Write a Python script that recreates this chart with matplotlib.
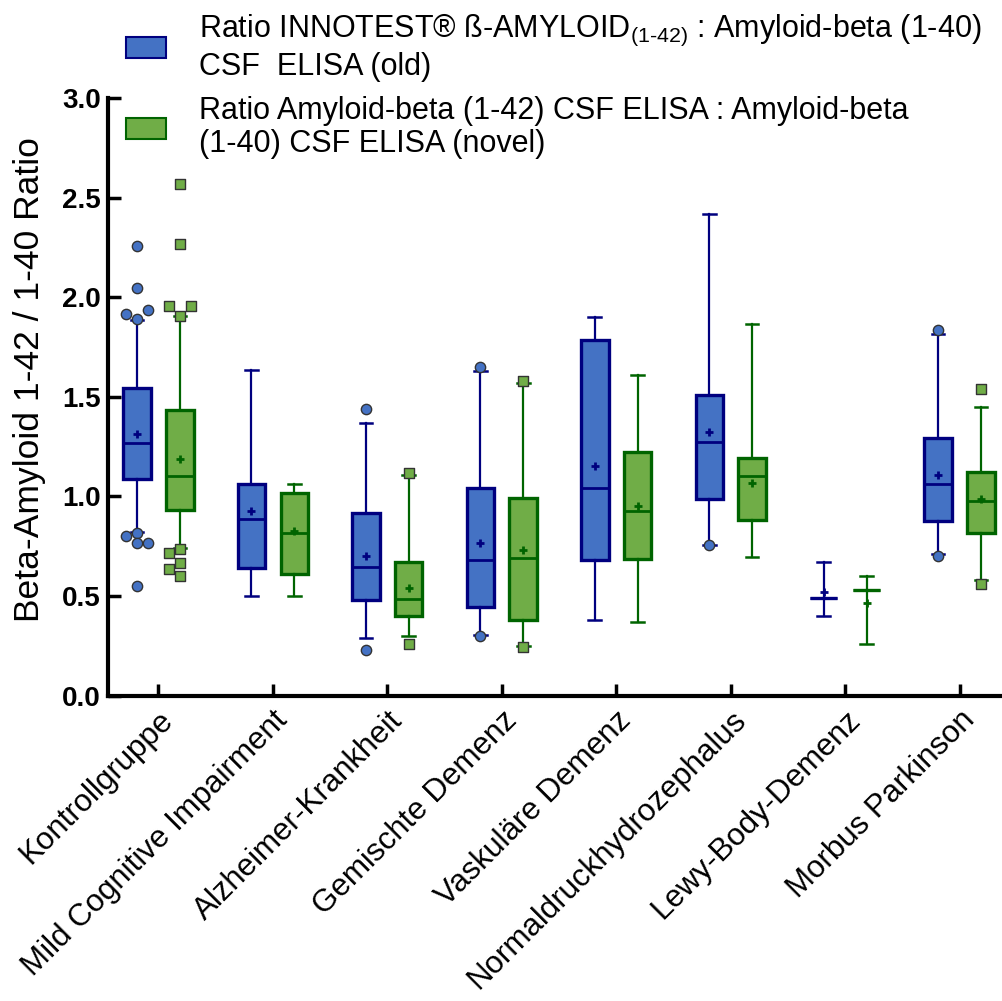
import matplotlib
matplotlib.use("Agg")
import matplotlib.pyplot as plt
from matplotlib.patches import Patch
import numpy as np

plt.rcParams['font.family'] = ['Liberation Sans', 'DejaVu Sans']
plt.rcParams['mathtext.fontset'] = 'custom'
plt.rcParams['mathtext.rm'] = 'Liberation Sans'

groups = ["Kontrollgruppe", "Mild Cognitive Impairment", "Alzheimer-Krankheit",
          "Gemischte Demenz", "Vaskuläre Demenz", "Normaldruckhydrozephalus",
          "Lewy-Body-Demenz", "Morbus Parkinson"]

# old assay (INNOTEST)
old_lo = [0.821, 0.498, 0.288, 0.303, 0.378, 0.757, 0.400, 0.712]
old_q1 = [1.085, 0.640, 0.478, 0.445, 0.679, 0.989, 0.488, 0.876]
old_med = [1.267, 0.888, 0.644, 0.679, 1.043, 1.275, 0.488, 1.063]
old_q3 = [1.542, 1.063, 0.916, 1.043, 1.786, 1.511, 0.488, 1.292]
old_hi = [1.886, 1.636, 1.369, 1.627, 1.898, 2.417, 0.669, 1.815]
old_mean = [1.315, 0.926, 0.702, 0.766, 1.150, 1.322, 0.518, 1.108]
old_fliers = [[2.257, 2.048, 1.888, 1.915, 1.938, 0.818, 0.799, 0.765, 0.765, 0.549],
              [], [1.437, 0.228], [1.647, 0.298], [], [0.757], [], [1.836, 0.699]]

# novel assay
new_lo = [0.741, 0.498, 0.297, 0.250, 0.368, 0.697, 0.258, 0.582]
new_q1 = [0.929, 0.612, 0.400, 0.378, 0.685, 0.881, 0.529, 0.816]
new_med = [1.100, 0.818, 0.483, 0.692, 0.926, 1.100, 0.529, 0.978]
new_q3 = [1.435, 1.015, 0.669, 0.993, 1.221, 1.193, 0.529, 1.121]
new_hi = [1.903, 1.060, 1.105, 1.569, 1.607, 1.866, 0.599, 1.450]
new_mean = [1.187, 0.824, 0.542, 0.729, 0.953, 1.065, 0.462, 0.989]
new_fliers = [[2.566, 2.267, 1.906, 1.956, 1.956, 0.737, 0.717, 0.667, 0.637, 0.599],
              [], [1.118, 0.260], [1.581, 0.245], [], [], [], [1.537, 0.559]]

legend_labels = [
    "Ratio INNOTEST® ß-AMYLOID$_{\\text{(1-42)}}$ : Amyloid-beta (1-40)\nCSF  ELISA (old)",
    "Ratio Amyloid-beta (1-42) CSF ELISA : Amyloid-beta\n(1-40) CSF ELISA (novel)",
]

BLUE, BLUE_EDGE = "#4472C4", "#00007F"
GREEN, GREEN_EDGE = "#70AD47", "#006400"


def make_stats(lo, q1, med, q3, hi, mean):
    return [dict(whislo=a, q1=b, med=c, q3=d, whishi=e, mean=f, fliers=[])
            for a, b, c, d, e, f in zip(lo, q1, med, q3, hi, mean)]


def swarm_offsets(vals, step_px, thresh_px, px_per_y):
    # greedy beeswarm: center first, then left, then right
    placed = []
    offs = []
    for v in vals:
        for k in [0, -1, 1, -2, 2]:
            x = k * step_px
            if all(np.hypot(x - px, (v - pv) * px_per_y) >= thresh_px for px, pv in placed):
                break
        placed.append((x, v))
        offs.append(k)
    return offs


fig = plt.figure(figsize=(10.03, 10.01), dpi=100)
ax = fig.add_axes([108 / 1003, 305.5 / 1001, 902 / 1003, 597.5 / 1001])
ax.set_xlim(-0.44, 7.44)
ax.set_ylim(0, 3.0)

x = np.arange(len(groups))
off = 0.1875
width = 0.24
px_per_x = 902 / 7.88
px_per_y = 597.5 / 3.0
step = 10.8

for stats, pos, fc, ec in [(make_stats(old_lo, old_q1, old_med, old_q3, old_hi, old_mean), x - off, BLUE, BLUE_EDGE),
                           (make_stats(new_lo, new_q1, new_med, new_q3, new_hi, new_mean), x + off, GREEN, GREEN_EDGE)]:
    ax.bxp(stats, positions=pos, widths=width, capwidths=0.11, patch_artist=True,
           showmeans=True, showfliers=False,
           boxprops=dict(facecolor=fc, edgecolor=ec, linewidth=2.4),
           medianprops=dict(color=ec, linewidth=2.0),
           whiskerprops=dict(color=ec, linewidth=1.6),
           capprops=dict(color=ec, linewidth=1.8),
           meanprops=dict(marker="+", markeredgecolor=ec, markersize=6, markeredgewidth=2),
           zorder=2)

for fliers, pos, fc, mk in [(old_fliers, x - off, BLUE, "o"), (new_fliers, x + off, GREEN, "s")]:
    for vals, p in zip(fliers, pos):
        if not vals:
            continue
        ks = swarm_offsets(vals, step, 10.5, px_per_y)
        xs = p + np.array(ks) * step / px_per_x
        ax.scatter(xs, vals, marker=mk, s=55 if mk == "o" else 48, facecolor=fc,
                   edgecolor="#333333", linewidth=1.0, zorder=4)

for s in ["top", "right"]:
    ax.spines[s].set_visible(False)
for s in ["left", "bottom"]:
    ax.spines[s].set_linewidth(3)

yt = np.arange(0, 3.01, 0.5)
ax.set_yticks(yt)
ax.set_yticklabels([f"{v:.1f}" for v in yt], fontsize=20, fontweight="bold")
ax.tick_params(axis="both", direction="in", length=9, width=2.5)
ax.tick_params(axis="y", pad=5)
ax.set_xticks(x)
ax.set_xticklabels(groups, rotation=45, ha="right", rotation_mode="anchor", fontsize=22.5)
ax.tick_params(axis="x", pad=7)
ax.set_ylabel("Beta-Amyloid 1-42 / 1-40 Ratio", fontsize=25.5)
ax.yaxis.set_label_coords(-0.069, 0.528)

handles = [Patch(facecolor=BLUE, edgecolor=BLUE_EDGE, linewidth=1.5),
           Patch(facecolor=GREEN, edgecolor=GREEN_EDGE, linewidth=1.5)]
leg = fig.legend(handles, legend_labels, loc="upper left", bbox_to_anchor=(114 / 1003, 1.0),
                 frameon=False, fontsize=22, handlelength=1.3, handleheight=0.68,
                 handletextpad=1.08, labelspacing=0.45, borderaxespad=0)
for t in leg.get_texts():
    t.set_linespacing(1.15)

fig.savefig("out.png", dpi=100)
